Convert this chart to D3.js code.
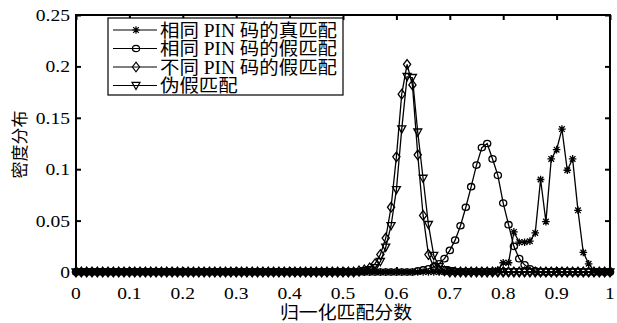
<!DOCTYPE html>
<html>
<head>
<meta charset="utf-8">
<script src="https://cdn.jsdelivr.net/npm/d3@7"></script>
<style>
    body { margin: 0; background: #fff; }
    #chart { width: 617px; height: 323px; }
    text { font-family: "Liberation Serif", "Noto Sans CJK SC", serif; fill: #000; }
</style>
</head>
<body>
<div id="chart"></div>
<script>
// histogram bin positions, 0.00 .. 1.00
const scores = [
    0.00, 0.01, 0.02, 0.03, 0.04, 0.05, 0.06, 0.07, 0.08, 0.09,
    0.10, 0.11, 0.12, 0.13, 0.14, 0.15, 0.16, 0.17, 0.18, 0.19,
    0.20, 0.21, 0.22, 0.23, 0.24, 0.25, 0.26, 0.27, 0.28, 0.29,
    0.30, 0.31, 0.32, 0.33, 0.34, 0.35, 0.36, 0.37, 0.38, 0.39,
    0.40, 0.41, 0.42, 0.43, 0.44, 0.45, 0.46, 0.47, 0.48, 0.49,
    0.50, 0.51, 0.52, 0.53, 0.54, 0.55, 0.56, 0.57, 0.58, 0.59,
    0.60, 0.61, 0.62, 0.63, 0.64, 0.65, 0.66, 0.67, 0.68, 0.69,
    0.70, 0.71, 0.72, 0.73, 0.74, 0.75, 0.76, 0.77, 0.78, 0.79,
    0.80, 0.81, 0.82, 0.83, 0.84, 0.85, 0.86, 0.87, 0.88, 0.89,
    0.90, 0.91, 0.92, 0.93, 0.94, 0.95, 0.96, 0.97, 0.98, 0.99,
    1.00
];

// 相同 PIN 码的真匹配
const genuineSamePin = [
    0, 0, 0, 0, 0, 0, 0, 0, 0, 0,
    0, 0, 0, 0, 0, 0, 0, 0, 0, 0,
    0, 0, 0, 0, 0, 0, 0, 0, 0, 0,
    0, 0, 0, 0, 0, 0, 0, 0, 0, 0,
    0, 0, 0, 0, 0, 0, 0, 0, 0, 0,
    0, 0, 0, 0, 0, 0, 0, 0, 0, 0,
    0, 0, 0, 0, 0, 0, 0, 0, 0, 0,
    0, 0, 0, 0, 0, 0, 0, 0, 0, 0.002,
    0.009, 0.009, 0.039, 0.029, 0.029, 0.030, 0.038, 0.090, 0.049, 0.110,
    0.119, 0.139, 0.099, 0.110, 0.060, 0.019, 0.008, 0.001, 0, 0,
    0
];

// 相同 PIN 码的假匹配
const impostorSamePin = [
    0, 0, 0, 0, 0, 0, 0, 0, 0, 0,
    0, 0, 0, 0, 0, 0, 0, 0, 0, 0,
    0, 0, 0, 0, 0, 0, 0, 0, 0, 0,
    0, 0, 0, 0, 0, 0, 0, 0, 0, 0,
    0, 0, 0, 0, 0, 0, 0, 0, 0, 0,
    0, 0, 0, 0, 0, 0, 0, 0, 0, 0,
    0, 0, 0, 0, 0.001, 0.002, 0.003, 0.005, 0.008, 0.013,
    0.021, 0.031, 0.045, 0.063, 0.083, 0.104, 0.121, 0.125, 0.110, 0.094,
    0.067, 0.046, 0.025, 0.013, 0.007, 0.003, 0.001, 0, 0, 0,
    0, 0, 0, 0, 0, 0, 0, 0, 0, 0,
    0
];

// 不同 PIN 码的假匹配
const impostorDiffPin = [
    0, 0, 0, 0, 0, 0, 0, 0, 0, 0,
    0, 0, 0, 0, 0, 0, 0, 0, 0, 0,
    0, 0, 0, 0, 0, 0, 0, 0, 0, 0,
    0, 0, 0, 0, 0, 0, 0, 0, 0, 0,
    0, 0, 0, 0, 0, 0, 0, 0, 0, 0,
    0, 0, 0, 0.001, 0.002, 0.004, 0.008, 0.017, 0.033, 0.063,
    0.112, 0.173, 0.202, 0.182, 0.114, 0.055, 0.017, 0.005, 0.002, 0.001,
    0, 0, 0, 0, 0, 0, 0, 0, 0, 0,
    0, 0, 0, 0, 0, 0, 0, 0, 0, 0,
    0, 0, 0, 0, 0, 0, 0, 0, 0, 0,
    0
];

// 伪假匹配
const forgery = [
    0, 0, 0, 0, 0, 0, 0, 0, 0, 0,
    0, 0, 0, 0, 0, 0, 0, 0, 0, 0,
    0, 0, 0, 0, 0, 0, 0, 0, 0, 0,
    0, 0, 0, 0, 0, 0, 0, 0, 0, 0,
    0, 0, 0, 0, 0, 0, 0, 0, 0, 0,
    0, 0, 0, 0, 0.001, 0.002, 0.004, 0.010, 0.024, 0.045,
    0.080, 0.139, 0.190, 0.189, 0.136, 0.091, 0.046, 0.016, 0.005, 0.002,
    0.001, 0, 0, 0, 0, 0, 0, 0, 0, 0,
    0, 0, 0, 0, 0, 0, 0, 0, 0, 0,
    0, 0, 0, 0, 0, 0, 0, 0, 0, 0,
    0
];

const seriesNames = ["相同 PIN 码的真匹配", "相同 PIN 码的假匹配", "不同 PIN 码的假匹配", "伪假匹配"];
const seriesValues = [genuineSamePin, impostorSamePin, impostorDiffPin, forgery];
const seriesMarkers = ["star", "circle", "diamond", "triangle"];

const xTicks = [0, 0.1, 0.2, 0.3, 0.4, 0.5, 0.6, 0.7, 0.8, 0.9, 1];
const yTicks = [0, 0.05, 0.1, 0.15, 0.2, 0.25];
const xTitle = "归一化匹配分数";
const yTitle = "密度分布";

// marker shapes, drawn centred on 0,0
const markerPaths = {
    star: "M-3.8,0H3.8M0,-3.8V3.8M-2.8,-2.8L2.8,2.8M-2.8,2.8L2.8,-2.8",
    circle: "M-3.6,0A3.6,3.2,0,1,0,3.6,0A3.6,3.2,0,1,0,-3.6,0Z",
    diamond: "M0,-4.8L3.6,0L0,4.8L-3.6,0Z",
    triangle: "M-4,-3.2L4,-3.2L0,4Z"
};

const margin = {top: 15, right: 7, bottom: 51, left: 76};
const width = 617 - margin.left - margin.right;
const height = 323 - margin.top - margin.bottom;
const stretch = 1.15;   // the source figure is a bit wider than tall

const svg = d3.select("#chart").append("svg")
    .attr("width", 617)
    .attr("height", 323);

const g = svg.append("g")
    .attr("transform", `translate(${margin.left},${margin.top})`);

const xScale = d3.scaleLinear().domain([0, 1]).range([0, width]);
const yScale = d3.scaleLinear().domain([0, 0.25]).range([height, 0]);

// inward ticks on all four sides
g.append("g")
    .attr("transform", `translate(0,${height})`)
    .call(d3.axisTop(xScale).tickValues(xTicks).tickSize(5).tickFormat(""));
g.append("g")
    .call(d3.axisBottom(xScale).tickValues(xTicks).tickSize(5).tickFormat(""));
g.append("g")
    .call(d3.axisRight(yScale).tickValues(yTicks).tickSize(5).tickFormat(""));
g.append("g")
    .attr("transform", `translate(${width},0)`)
    .call(d3.axisLeft(yScale).tickValues(yTicks).tickSize(5).tickFormat(""));
g.selectAll(".domain").remove();
g.selectAll(".tick line").attr("stroke", "#000").attr("stroke-width", 2);

// tick labels
g.selectAll(".xlab")
    .data(xTicks)
    .enter().append("text")
    .attr("class", "xlab")
    .attr("transform", d => `translate(${xScale(d)},${height + 27}) scale(${stretch},1)`)
    .attr("text-anchor", "middle")
    .style("font-size", "17px")
    .text(d => d3.format("")(d));

g.selectAll(".ylab")
    .data(yTicks)
    .enter().append("text")
    .attr("class", "ylab")
    .attr("transform", d => `translate(-6,${yScale(d) + 6}) scale(${stretch},1)`)
    .attr("text-anchor", "end")
    .style("font-size", "17px")
    .text(d => d3.format("")(d));

// axis titles
g.append("text")
    .attr("transform", `translate(${width / 2 + 3},${height + 47}) scale(1.05,1)`)
    .attr("text-anchor", "middle")
    .style("font-size", "18px")
    .text(xTitle);

g.append("text")
    .attr("transform", `translate(-50,${height / 2 + 1}) rotate(-90)`)
    .attr("text-anchor", "middle")
    .style("font-size", "17px")
    .text(yTitle);

// series
const line = d3.line()
    .x((d, i) => xScale(scores[i]))
    .y(d => yScale(d));

seriesValues.forEach((values, k) => {
    g.append("path")
        .datum(values)
        .attr("fill", "none")
        .attr("stroke", "#000")
        .attr("stroke-width", 1.3)
        .attr("d", line);

    g.selectAll(".m" + k)
        .data(values)
        .enter().append("path")
        .attr("class", "m" + k)
        .attr("transform", (d, i) => `translate(${xScale(scores[i])},${yScale(d)})`)
        .attr("d", markerPaths[seriesMarkers[k]])
        .attr("fill", "none")
        .attr("stroke", "#000")
        .attr("stroke-width", 1.3);
});

// frame
g.append("rect")
    .attr("width", width)
    .attr("height", height)
    .attr("fill", "none")
    .attr("stroke", "#000")
    .attr("stroke-width", 2);

// legend
const legend = g.append("g")
    .attr("transform", "translate(32,3)");

legend.append("rect")
    .attr("width", 235)
    .attr("height", 77)
    .attr("fill", "#fff")
    .attr("stroke", "#000")
    .attr("stroke-width", 1.2);

const rows = legend.selectAll(".row")
    .data(seriesNames)
    .enter().append("g")
    .attr("class", "row")
    .attr("transform", (d, i) => `translate(0,${12 + i * 18.5})`);

rows.append("line")
    .attr("x1", 5).attr("x2", 49)
    .attr("stroke", "#000").attr("stroke-width", 1.2);

rows.append("path")
    .attr("transform", "translate(28,0)")
    .attr("d", (d, i) => markerPaths[seriesMarkers[i]])
    .attr("fill", "none")
    .attr("stroke", "#000")
    .attr("stroke-width", 1.2);

rows.append("text")
    .attr("transform", "translate(52,6.5) scale(1.08,1)")
    .style("font-size", "18px")
    .text(d => d);
</script>
</body>
</html>
